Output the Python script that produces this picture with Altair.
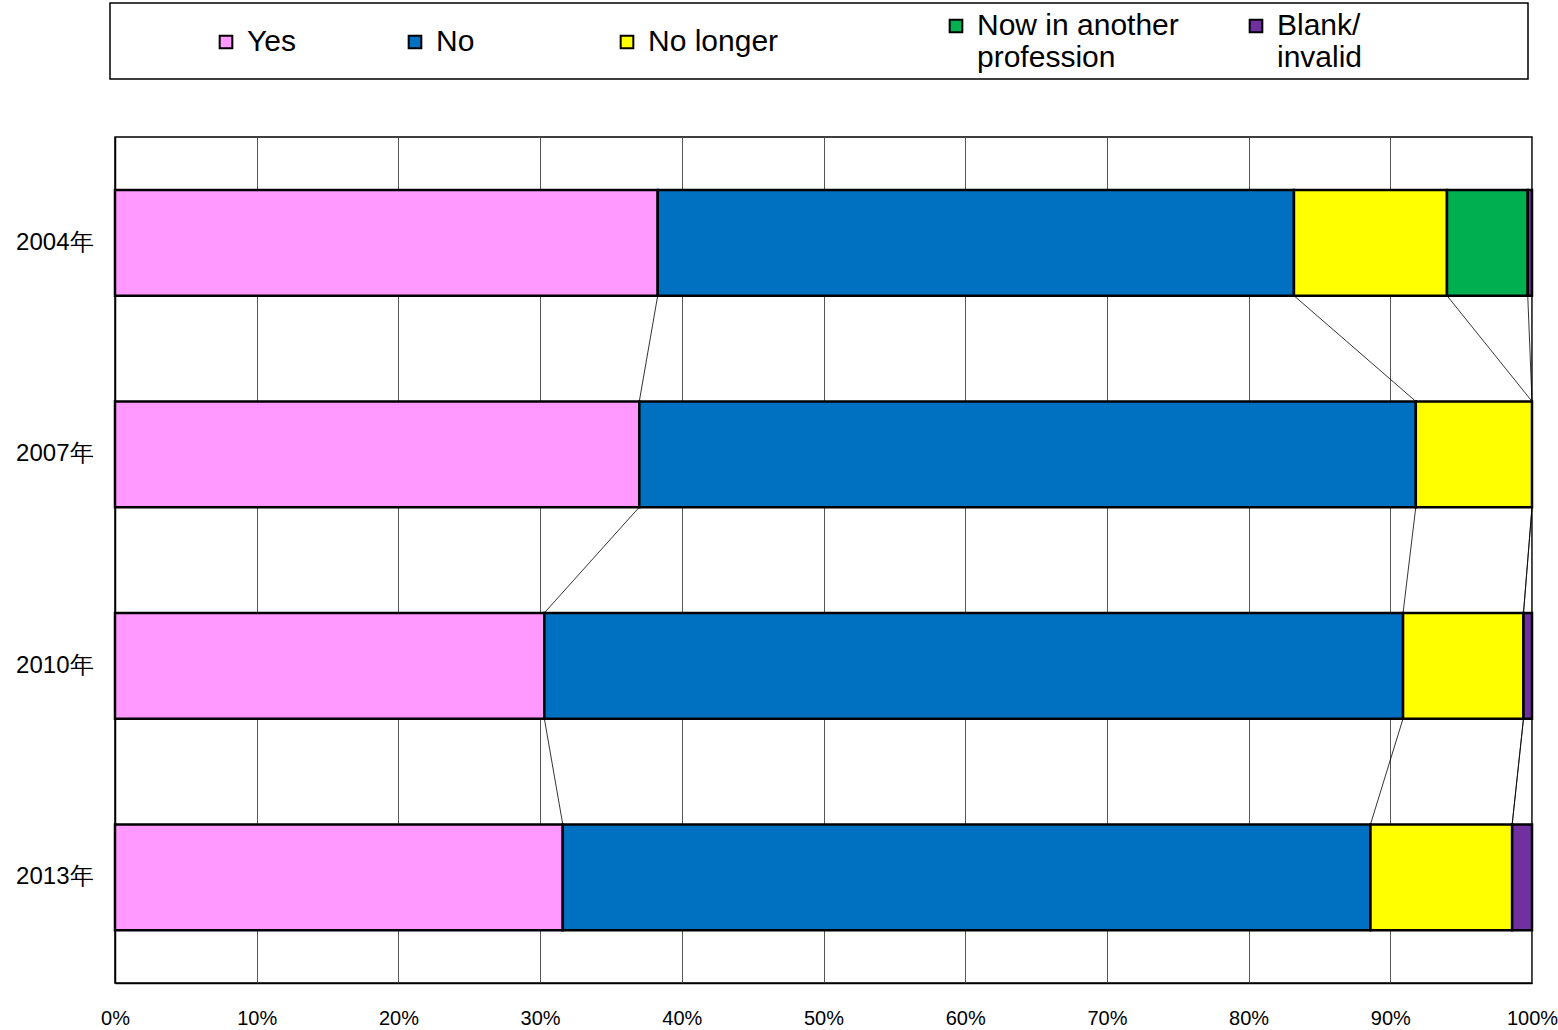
import altair as alt
import pandas as pd

years = ["2004年", "2007年", "2010年", "2013年"]
categories = ["Yes", "No", "No longer", "Now in another profession", "Blank/invalid"]
colors = ["#FF99FF", "#0070C0", "#FFFF00", "#00B050", "#7030A0"]

yes = [38.3, 37.0, 30.3, 31.6]
no = [44.9, 54.8, 60.6, 57.0]
no_longer = [10.8, 8.2, 8.5, 10.0]
another = [5.7, 0.0, 0.0, 0.0]
blank = [0.3, 0.0, 0.6, 1.4]

series = [yes, no, no_longer, another, blank]

rows = []
cum = {}
for yi, y in enumerate(years):
    start = 0.0
    ends = []
    for ci, c in enumerate(categories):
        v = series[ci][yi]
        end = start + v
        if v > 0:
            rows.append({"year": y, "category": c, "order": ci, "start": start, "end": end})
        ends.append(end)
        start = end
    cum[y] = ends
bars_df = pd.DataFrame(rows)

links = []
for i in range(len(years) - 1):
    a, b = years[i], years[i + 1]
    for k in range(len(categories) - 1):
        links.append({"from": a, "to": b, "x1": cum[a][k], "x2": cum[b][k]})
links_df = pd.DataFrame(links)

FONT = "Liberation Sans"

# legend label text (multi-line where the original wraps); the trailing blank
# padding (closed by a zero-width space so it is kept) only widens the legend
# columns to the original spacing
SP = "\u00a0"
ZW = "\u200b"
label_expr = (
    "datum.label == 'Now in another profession' ? ['Now in another', 'profession'] : "
    "datum.label == 'Blank/invalid' ? ['Blank/', 'invalid'] : "
    f"datum.label == 'Yes' ? 'Yes{SP * 5}{ZW}' : "
    f"datum.label == 'No' ? 'No{SP * 9}{ZW}' : "
    f"datum.label == 'No longer' ? 'No longer{SP * 12}{ZW}' : datum.label"
)

yscale = alt.Scale(domain=years, paddingInner=0.5, paddingOuter=0.25)
xscale = alt.Scale(domain=[0, 100], nice=False)

bars = alt.Chart(bars_df).mark_bar(stroke="black", strokeWidth=2.5).encode(
    y=alt.Y("year:N", scale=yscale, sort=years,
            axis=alt.Axis(title=None, ticks=False, domain=True, domainColor="black",
                          domainWidth=1.5, labelFont=FONT, labelFontSize=24,
                          labelColor="black", labelPadding=22)),
    x=alt.X("start:Q", scale=xscale,
            axis=alt.Axis(title=None, values=list(range(0, 101, 10)), ticks=False,
                          labelExpr="datum.value + '%'", labelFont=FONT, labelFontSize=20,
                          labelColor="black", labelPadding=25, labelFlush=False,
                          grid=True, gridColor="#555555", gridWidth=1,
                          domainColor="black", domainWidth=1.5)),
    x2="end:Q",
    color=alt.Color("category:N", scale=alt.Scale(domain=categories, range=colors),
                    sort=categories,
                    legend=alt.Legend(
                        title=None, orient="none", legendX=96, legendY=-126,
                        direction="horizontal", columns=5, columnPadding=62,
                        symbolType="square", symbolSize=160, symbolStrokeColor="black",
                        symbolStrokeWidth=2, labelFont=FONT, labelFontSize=30,
                        labelColor="black", labelOffset=6, labelLimit=400,
                        labelExpr=label_expr,
                    )),
    order=alt.Order("order:Q"),
)

connectors = alt.Chart(links_df).mark_rule(color="black", strokeWidth=0.8).encode(
    y=alt.Y("from:N", scale=yscale, sort=years, bandPosition=1),
    y2=alt.Y2("to:N", bandPosition=0),
    x=alt.X("x1:Q", scale=xscale),
    x2="x2:Q",
)

box = alt.Chart(pd.DataFrame({"k": [0]})).mark_rect(
    fill="white", fillOpacity=0, stroke="black", strokeWidth=1.5
).encode(
    x=alt.value(-5), x2=alt.value(1413), y=alt.value(-134), y2=alt.value(-58)
)

chart = alt.layer(box, connectors, bars).properties(
    width=1417, height=846,
    padding={"left": 115, "top": 137, "right": 26, "bottom": 47},
    autosize=alt.AutoSizeParams(type="none"),
    background="white",
).configure_view(stroke="black", strokeWidth=1.5)

chart.save("out.html", embed_options={"renderer": "svg", "actions": False})
